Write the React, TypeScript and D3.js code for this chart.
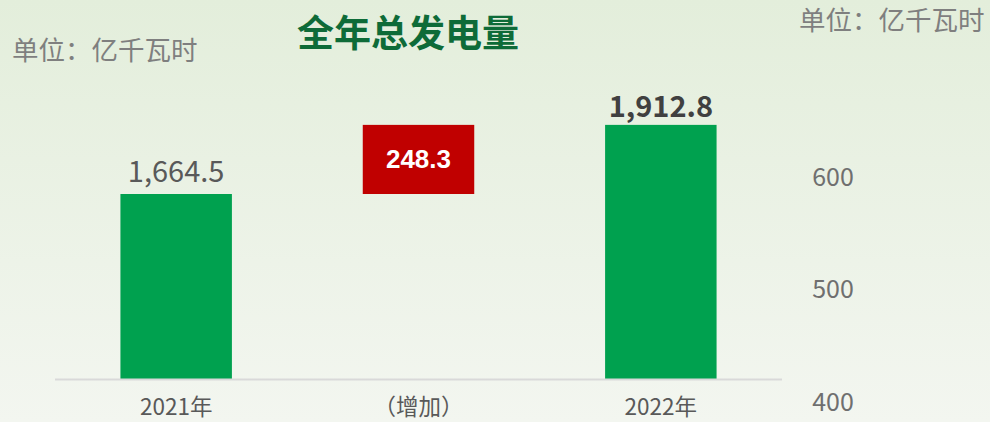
import React from "react";
import * as d3 from "d3";

const categories = ["2021年", "（增加）", "2022年"];
const startValue = 1664.5;
const increase = 248.3;
const endValue = 1912.8;
const valueLabels = ["1,664.5", "248.3", "1,912.8"];
const rightTicks = [400, 500, 600];

const W = 990;
const H = 422;
const NARROW = "'Liberation Sans Narrow', 'Arial Narrow', 'Noto Sans CJK SC', sans-serif";
const CJK = "'Noto Sans CJK SC', sans-serif";

export default function App() {
  const x = d3.scaleBand<string>().domain(categories).range([55, 782]).paddingInner(0.54).paddingOuter(0.27);
  const y = d3.scaleLinear().domain([1000, 2000]).range([379, 100.6]);
  const yr = d3.scaleLinear().domain([400, 600]).range([402, 177]);

  const bars = [
    { cat: categories[0], lo: 1000, hi: startValue, color: "#00a14f" },
    { cat: categories[1], lo: startValue, hi: startValue + increase, color: "#c00000" },
    { cat: categories[2], lo: 1000, hi: endValue, color: "#00a14f" },
  ];
  const bw = x.bandwidth();

  return (
    <svg width={W} height={H} style={{ position: "absolute", left: 0, top: 0, display: "block" }}>
      <defs>
        <linearGradient id="bg" x1="0" y1="0" x2="0" y2="1">
          <stop offset="0" stopColor="#e3eedb" />
          <stop offset="1" stopColor="#f3f6f0" />
        </linearGradient>
      </defs>
      <rect x={0} y={0} width={W} height={H} fill="url(#bg)" />

      <text x={297} y={47} fontFamily={CJK} fontWeight="bold" fontSize={37} fill="#0e6b38">全年总发电量</text>
      <text x={12} y={60} fontFamily={CJK} fontSize={26.5} fill="#7f7f7f">单位：亿千瓦时</text>
      <text x={799} y={30} fontFamily={CJK} fontSize={26.5} fill="#7f7f7f">单位：亿千瓦时</text>

      {bars.map((b, i) => (
        <rect key={i} x={x(b.cat)!} y={y(b.hi)} width={bw} height={y(b.lo) - y(b.hi)} fill={b.color} />
      ))}

      <line x1={55} x2={782} y1={y(1000) + 0.5} y2={y(1000) + 0.5} stroke="#d9d9d9" strokeWidth={2} />

      <text x={x(categories[0])! + bw / 2} y={y(startValue) - 12} textAnchor="middle" fontFamily={NARROW} fontSize={29} fill="#595959">{valueLabels[0]}</text>
      <text x={x(categories[1])! + bw / 2} y={(y(startValue) + y(startValue + increase)) / 2 + 9} textAnchor="middle" fontFamily="'Liberation Sans', Arial, sans-serif" fontWeight="bold" fontSize={26} fill="#ffffff">{valueLabels[1]}</text>
      <text x={x(categories[2])! + bw / 2} y={y(endValue) - 8} textAnchor="middle" fontFamily={NARROW} fontWeight="bold" fontSize={29} fill="#404040">{valueLabels[2]}</text>

      {categories.map((c) => (
        <text key={c} x={x(c)! + bw / 2} y={415} textAnchor="middle" fontFamily={NARROW} fontSize={22.5} fill="#595959">{c}</text>
      ))}

      {rightTicks.map((t) => (
        <text key={t} x={833} y={yr(t) + 8.5} textAnchor="middle" fontFamily={NARROW} fontSize={25} fill="#6f6f6f">{t}</text>
      ))}
    </svg>
  );
}
